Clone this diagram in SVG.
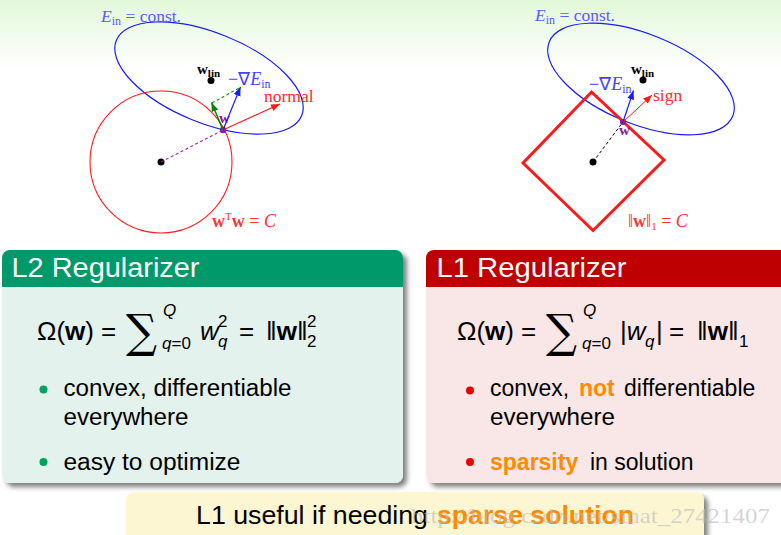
<svg xmlns="http://www.w3.org/2000/svg" width="781" height="535" viewBox="0 0 781 535">
<defs>
  <linearGradient id="topbg" x1="0" y1="0" x2="0" y2="1">
    <stop offset="0" stop-color="#e2f8d9"/>
    <stop offset="1" stop-color="#ffffff"/>
  </linearGradient>
  <filter id="shadow" x="-5%" y="-5%" width="115%" height="115%">
    <feGaussianBlur in="SourceAlpha" stdDeviation="2.5"/>
    <feOffset dx="4" dy="4"/>
    <feComponentTransfer><feFuncA type="linear" slope="0.5"/></feComponentTransfer>
    <feMerge><feMergeNode/><feMergeNode in="SourceGraphic"/></feMerge>
  </filter>
  <marker id="aRed" markerUnits="userSpaceOnUse" markerWidth="10" markerHeight="8" refX="9" refY="3.5" orient="auto">
    <path d="M0,0 L9,3.5 L0,7 z" fill="#ff1a1a"/>
  </marker>
  <marker id="aBlue" markerUnits="userSpaceOnUse" markerWidth="10" markerHeight="8" refX="9" refY="3.5" orient="auto">
    <path d="M0,0 L9,3.5 L0,7 z" fill="#1a1aff"/>
  </marker>
  <marker id="aGreen" markerUnits="userSpaceOnUse" markerWidth="10" markerHeight="8" refX="9" refY="3.5" orient="auto">
    <path d="M0,0 L9,3.5 L0,7 z" fill="#008800"/>
  </marker>
  <style>
    .serif{font-family:"Liberation Serif","Times New Roman",serif}
    .sans{font-family:"Liberation Sans",Arial,sans-serif}
    .title{font-size:27px;fill:#ffffff}
    .body{font-size:23px;fill:#000000}
    .hl{fill:#ff8a00;font-weight:bold}
    .it{font-style:italic}
    .bf{font-weight:bold}
    .dot{fill:#000000}
    .ell{fill:none;stroke:#1a1aff;stroke-width:1.2}
    .math{font-size:26px;fill:#000}
    .small{font-size:17px}
    .sum{font-family:"DejaVu Serif","DejaVu Sans",serif;font-size:46px;fill:#000}
  </style>
</defs>

<rect x="0" y="0" width="781" height="535" fill="#ffffff"/>
<rect x="0" y="0" width="781" height="70" fill="url(#topbg)"/>

<!-- Left diagram: L2 geometry -->
<g id="l2-diagram">
  <ellipse class="ell" cx="209" cy="78" rx="100" ry="45" transform="rotate(22 209 78)"/>
  <circle cx="161" cy="162" r="71" fill="none" stroke="#ff1a1a" stroke-width="1.1"/>
  <circle class="dot" cx="161" cy="162" r="3.5"/>
  <circle class="dot" cx="211" cy="80.5" r="3.5"/>
  <circle cx="223" cy="130" r="3.2" fill="#8a1a9a"/>
  <text class="serif" x="101" y="22" fill="#5b5bff" font-size="17.5"><tspan class="it">E</tspan><tspan font-size="12" dy="3">in</tspan><tspan dy="-3"> = const.</tspan></text>
  <text class="serif bf" x="197" y="74" font-size="15" fill="#000">w<tspan font-size="11" dy="3">lin</tspan></text>
  <text class="serif" x="228" y="85" font-size="18" fill="#4444ff">−∇<tspan class="it">E</tspan><tspan font-size="12" dy="3">in</tspan></text>
  <text class="serif" x="264" y="102" font-size="17.5" fill="#ff2a2a">normal</text>
  <text class="serif bf" x="219" y="123" font-size="15" fill="#8a1a9a">w</text>
  <text class="serif" x="212" y="227" font-size="18" fill="#ff3333"><tspan class="bf">w</tspan><tspan font-size="11" dy="-7">T</tspan><tspan class="bf" dy="7">w</tspan> = <tspan class="it">C</tspan></text>
</g>

<!-- Right diagram: L1 geometry -->
<g id="l1-diagram">
  <ellipse class="ell" cx="641" cy="79" rx="99" ry="45" transform="rotate(22 641 79)"/>
  <polygon points="591.5,92 664,160 593,230.5 523,163" fill="none" stroke="#ff1a1a" stroke-width="3" stroke-linejoin="miter"/>
  <circle class="dot" cx="593" cy="162" r="3.5"/>
  <circle class="dot" cx="643" cy="80" r="3.5"/>
  <circle cx="623" cy="122" r="3" fill="#8a1a9a"/>
  <text class="serif" x="535" y="21" fill="#5b5bff" font-size="17.5"><tspan class="it">E</tspan><tspan font-size="12" dy="3">in</tspan><tspan dy="-3"> = const.</tspan></text>
  <text class="serif bf" x="631" y="74" font-size="15" fill="#000">w<tspan font-size="11" dy="3">lin</tspan></text>
  <text class="serif" x="589" y="90" font-size="18" fill="#4444ff">−∇<tspan class="it">E</tspan><tspan font-size="12" dy="3">in</tspan></text>
  <text class="serif" x="653" y="101" font-size="17.5" fill="#ff2a2a">sign</text>
  <text class="serif bf" x="619" y="135" font-size="15" fill="#8a1a9a">w</text>
  <text class="serif" x="628" y="227" font-size="18" fill="#ff3333">‖<tspan class="bf">w</tspan>‖<tspan font-size="11" dy="3">1</tspan><tspan dy="-3"> = </tspan><tspan class="it">C</tspan></text>
</g>

<!-- Connectors -->
<g id="connectors" fill="none">
  <line x1="161" y1="162" x2="223" y2="130" stroke="#a020b0" stroke-width="1.1" stroke-dasharray="3,2.5"/>
  <line x1="212" y1="103" x2="240" y2="87.5" stroke="#009900" stroke-width="1.1" stroke-dasharray="3,2.5"/>
  <line x1="223" y1="130" x2="280" y2="104" stroke="#ff1a1a" stroke-width="1.2" marker-end="url(#aRed)"/>
  <line x1="223" y1="130" x2="240.5" y2="87" stroke="#1a1aff" stroke-width="1.2" marker-end="url(#aBlue)"/>
  <line x1="223" y1="130" x2="211.5" y2="102.5" stroke="#008800" stroke-width="1.5" marker-end="url(#aGreen)"/>
  <line x1="593" y1="162" x2="623" y2="122" stroke="#000" stroke-width="1" stroke-dasharray="3,2.5"/>
  <line x1="623" y1="122" x2="633.5" y2="90.5" stroke="#1a1aff" stroke-width="1.2" marker-end="url(#aBlue)"/>
  <line x1="623" y1="122" x2="652" y2="95" stroke="#ff1a1a" stroke-width="1" marker-end="url(#aRed)"/>
</g>

<!-- L2 box -->
<g id="box-l2">
  <g filter="url(#shadow)">
    <rect x="2" y="250" width="401" height="233" rx="8" fill="#e4f2ed"/>
    <path d="M2,287 V258 A8,8 0 0 1 10,250 H395 A8,8 0 0 1 403,258 V287 Z" fill="#009969"/>
  </g>
  <text class="sans title" x="11.5" y="277" textLength="188" lengthAdjust="spacingAndGlyphs">L2 Regularizer</text>
  <text class="sans math" x="37" y="340">Ω(<tspan class="bf">w</tspan>)</text>
  <text class="sans math" x="101" y="340">=</text>
  <text class="sum" x="126" y="347" textLength="31" lengthAdjust="spacingAndGlyphs">∑</text>
  <text class="sans small it" x="163" y="316">Q</text>
  <text class="sans small" x="162" y="349"><tspan class="it">q</tspan>=0</text>
  <text class="sans math it" x="200" y="340">w</text>
  <text class="sans small" x="218" y="327">2</text>
  <text class="sans small it" x="218" y="347">q</text>
  <text class="sans math" x="239" y="340">=</text>
  <text class="sans math" x="266" y="340">‖<tspan class="bf">w</tspan>‖</text>
  <text class="sans small" x="307" y="327">2</text>
  <text class="sans small" x="307" y="347">2</text>
  <circle cx="43.5" cy="389.5" r="4" fill="#00a060"/>
  <circle cx="43.5" cy="462" r="4" fill="#00a060"/>
  <text class="sans body" x="63.5" y="396" textLength="228" lengthAdjust="spacingAndGlyphs">convex, differentiable</text>
  <text class="sans body" x="63.5" y="425" textLength="125" lengthAdjust="spacingAndGlyphs">everywhere</text>
  <text class="sans body" x="63.5" y="469.5" textLength="177" lengthAdjust="spacingAndGlyphs">easy to optimize</text>
</g>

<!-- L1 box -->
<g id="box-l1">
  <g filter="url(#shadow)">
    <rect x="426" y="250" width="370" height="233" rx="8" fill="#f9e6e6"/>
    <path d="M426,287 V258 A8,8 0 0 1 434,250 H796 V287 Z" fill="#bf0000"/>
  </g>
  <text class="sans title" x="436.5" y="277" textLength="190" lengthAdjust="spacingAndGlyphs">L1 Regularizer</text>
  <text class="sans math" x="457" y="340">Ω(<tspan class="bf">w</tspan>)</text>
  <text class="sans math" x="521" y="340">=</text>
  <text class="sum" x="546" y="347" textLength="31" lengthAdjust="spacingAndGlyphs">∑</text>
  <text class="sans small it" x="583" y="316">Q</text>
  <text class="sans small" x="582" y="349"><tspan class="it">q</tspan>=0</text>
  <text class="sans math" x="620" y="340">|<tspan class="it">w</tspan></text>
  <text class="sans small it" x="645" y="347">q</text>
  <text class="sans math" x="656" y="340">|</text>
  <text class="sans math" x="669" y="340">=</text>
  <text class="sans math" x="697" y="340">‖<tspan class="bf">w</tspan>‖</text>
  <text class="sans small" x="739" y="347">1</text>
  <circle cx="470" cy="390.5" r="4" fill="#ee0000"/>
  <circle cx="470" cy="462" r="4" fill="#ee0000"/>
  <text class="sans body" y="396"><tspan x="490">convex,</tspan><tspan class="hl" x="579">not</tspan><tspan x="624">differentiable</tspan></text>
  <text class="sans body" x="490" y="425" textLength="125" lengthAdjust="spacingAndGlyphs">everywhere</text>
  <text class="sans body" y="469.5"><tspan class="hl" x="490">sparsity</tspan><tspan x="590">in solution</tspan></text>
</g>

<!-- Bottom banner -->
<g id="banner">
  <rect x="126" y="492" width="578" height="70" rx="8" fill="#fdf6d2" filter="url(#shadow)"/>
  <text class="sans" x="196" y="524" font-size="25" fill="#000" textLength="232" lengthAdjust="spacingAndGlyphs">L1 useful if needing</text>
  <text class="sans hl" x="437" y="524" font-size="25" textLength="197" lengthAdjust="spacingAndGlyphs">sparse solution</text>
  <text class="serif" x="411" y="523" font-size="21" fill="#b8b8b8" fill-opacity="0.6" textLength="359" lengthAdjust="spacingAndGlyphs">http://blog.csdn.net/sinat_27421407</text>
</g>
</svg>
